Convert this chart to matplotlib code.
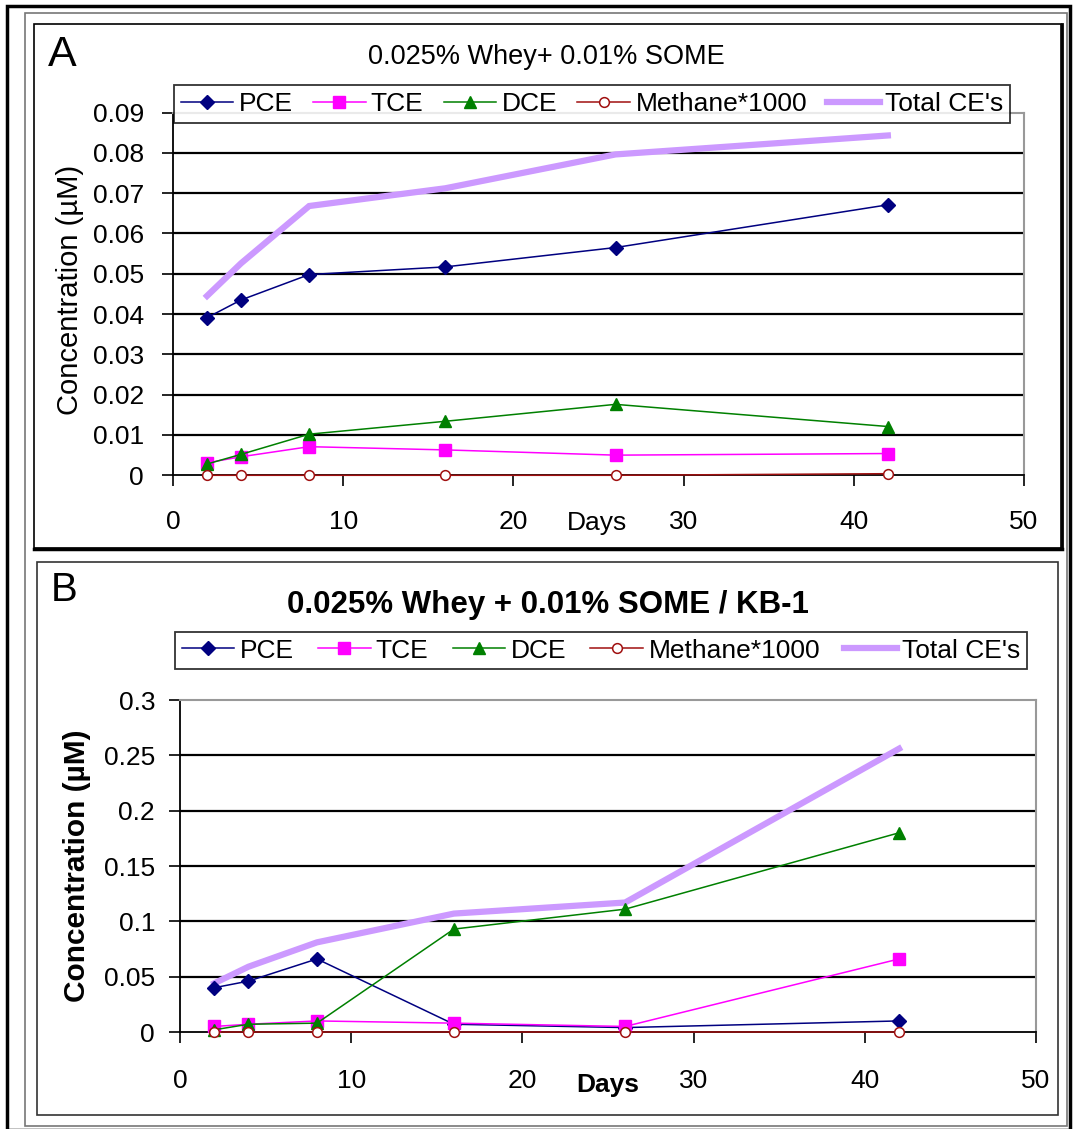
import matplotlib
matplotlib.use("Agg")
import matplotlib.pyplot as plt
from matplotlib.patches import Rectangle
from matplotlib.lines import Line2D

plt.rcParams['font.family'] = ['Liberation Sans', 'DejaVu Sans']

# ---------------- data ----------------
days = [2, 4, 8, 16, 26, 42]

a_pce = [0.0391, 0.0435, 0.0498, 0.0517, 0.0565, 0.0671]
a_tce = [0.0031, 0.0046, 0.0071, 0.0063, 0.0050, 0.0054]
a_dce = [0.0028, 0.0052, 0.0102, 0.0134, 0.0176, 0.0121]
a_meth = [0.0, 0.0, 0.0, 0.0, 0.0, 0.0004]
a_total = [0.0445, 0.0526, 0.0668, 0.0712, 0.0796, 0.0843]

b_pce = [0.040, 0.046, 0.066, 0.007, 0.004, 0.010]
b_tce = [0.005, 0.007, 0.010, 0.008, 0.005, 0.066]
b_dce = [0.002, 0.007, 0.008, 0.093, 0.111, 0.180]
b_meth = [0.0, 0.0, 0.0, 0.0, 0.0, 0.0]
b_total = [0.044, 0.059, 0.081, 0.107, 0.117, 0.256]

series_names = ["PCE", "TCE", "DCE", "Methane*1000", "Total CE's"]
x_ticks = [0, 10, 20, 30, 40, 50]
a_yticks = [0, 0.01, 0.02, 0.03, 0.04, 0.05, 0.06, 0.07, 0.08, 0.09]
a_ylabels = ["0", "0.01", "0.02", "0.03", "0.04", "0.05", "0.06", "0.07", "0.08", "0.09"]
b_yticks = [0, 0.05, 0.1, 0.15, 0.2, 0.25, 0.3]
b_ylabels = ["0", "0.05", "0.1", "0.15", "0.2", "0.25", "0.3"]

W, H = 1074, 1129
fig = plt.figure(figsize=(W / 100, H / 100), dpi=100)


def fx(px):
    return px / W


def fy(py):
    return 1 - py / H


def rect(x0, y0, x1, y1, color, lw):
    fig.add_artist(Rectangle((fx(x0), fy(y1)), fx(x1) - fx(x0), fy(y0) - fy(y1),
                             transform=fig.transFigure, fill=False,
                             edgecolor=color, linewidth=lw))


# frames
rect(7, 6, 1070, 1130, 'black', 2.5)
rect(25, 13, 1067, 1126, '#777777', 1.2)
rect(34, 24, 1061, 548, 'black', 1.2)
fig.add_artist(Line2D([fx(34), fx(1062)], [fy(548.5), fy(548.5)], transform=fig.transFigure,
                      color='black', lw=2.5))
fig.add_artist(Line2D([fx(1061.5), fx(1061.5)], [fy(24), fy(549)], transform=fig.transFigure,
                      color='black', lw=2.0))
rect(37, 562, 1058, 1115, '#333333', 1.2)

FS = 19

styles = [
    dict(color='#000080', marker='D', markersize=7, lw=1.1, mfc='#000080', mec='#000080'),
    dict(color='#FF00FF', marker='s', markersize=8, lw=1.1, mfc='#FF00FF', mec='#FF00FF'),
    dict(color='#008000', marker='^', markersize=9, lw=1.1, mfc='#008000', mec='#008000'),
    dict(color='#A01010', marker='o', markersize=7, lw=1.1, mfc='white', mec='#A01010', mew=1.1),
    dict(color='#CC99FF', marker=None, lw=4.5),
]


def make_panel(box, yticks, ylabels, data, ypad, xpad, legbox):
    x0, y0, x1, y1 = box
    ax = fig.add_axes([fx(x0), fy(y1), fx(x1) - fx(x0), fy(y0) - fy(y1)])
    order = [4, 0, 1, 2, 3]
    lines = {}
    for i in order:
        ln, = ax.plot(days, data[i], label=series_names[i], zorder=3 if i == 4 else 4,
                      solid_joinstyle='miter', clip_on=False, **styles[i])
        lines[i] = ln
    handles = [lines[i] for i in range(5)]
    ax.set_xlim(0, 50)
    ax.set_ylim(yticks[0], yticks[-1])
    ax.set_xticks(x_ticks)
    ax.set_xticklabels([str(v) for v in x_ticks], fontsize=FS)
    ax.set_yticks(yticks)
    ax.set_yticklabels(ylabels, fontsize=FS)
    ax.tick_params(axis='both', direction='out', length=8, width=1.2, color='black')
    ax.tick_params(axis='y', pad=ypad)
    ax.tick_params(axis='x', pad=xpad)
    ax.yaxis.grid(True, color='black', lw=1.6, zorder=1)
    ax.set_axisbelow(True)
    glines = ax.get_ygridlines()
    glines[-1].set_visible(False)
    glines[0].set_visible(False)
    for s in ['top', 'right']:
        ax.spines[s].set_color('#999999')
        ax.spines[s].set_linewidth(1.5)
    for s in ['left', 'bottom']:
        ax.spines[s].set_color('black')
        ax.spines[s].set_linewidth(1.3)
    lx0, ly0, lx1, ly1 = legbox
    leg = fig.legend(handles, series_names, ncol=5, mode='expand', loc='center',
                     bbox_to_anchor=(fx(lx0), fy(ly1), fx(lx1) - fx(lx0), fy(ly0) - fy(ly1)),
                     fontsize=FS, frameon=True, fancybox=False, edgecolor='black',
                     handlelength=2.0, handletextpad=0.2, columnspacing=0.5,
                     borderpad=0.25, borderaxespad=0)
    leg.get_frame().set_linewidth(1.3)
    return ax


# Panel A
axA = make_panel((173, 112.5, 1024, 475.3), a_yticks, a_ylabels,
                 [a_pce, a_tce, a_dce, a_meth, a_total], 13, 17,
                 (174, 80, 1010, 128))
fig.text(fx(62), fy(55), "A", fontsize=31, ha='center', va='center')
fig.text(fx(546), fy(57), "0.025% Whey+ 0.01% SOME", fontsize=19.5, ha='center', va='center')
fig.text(fx(70), fy(290), "Concentration (µM)", fontsize=21, rotation=90,
         ha='center', va='center')
fig.text(fx(597), fy(523), "Days", fontsize=19, ha='center', va='center')

# Panel B
axB = make_panel((180, 700, 1036, 1032), b_yticks, b_ylabels,
                 [b_pce, b_tce, b_dce, b_meth, b_total], 10, 19,
                 (175, 625, 1027, 676))
fig.text(fx(64), fy(590), "B", fontsize=29, ha='center', va='center')
fig.text(fx(548), fy(605), "0.025% Whey + 0.01% SOME / KB-1", fontsize=22.5,
         fontweight='bold', ha='center', va='center')
fig.text(fx(77), fy(866), "Concentration (µM)", fontsize=21.5, fontweight='bold',
         rotation=90, ha='center', va='center')
fig.text(fx(608), fy(1085), "Days", fontsize=19, fontweight='bold', ha='center', va='center')

fig.savefig("out.png", dpi=100, facecolor='white')
